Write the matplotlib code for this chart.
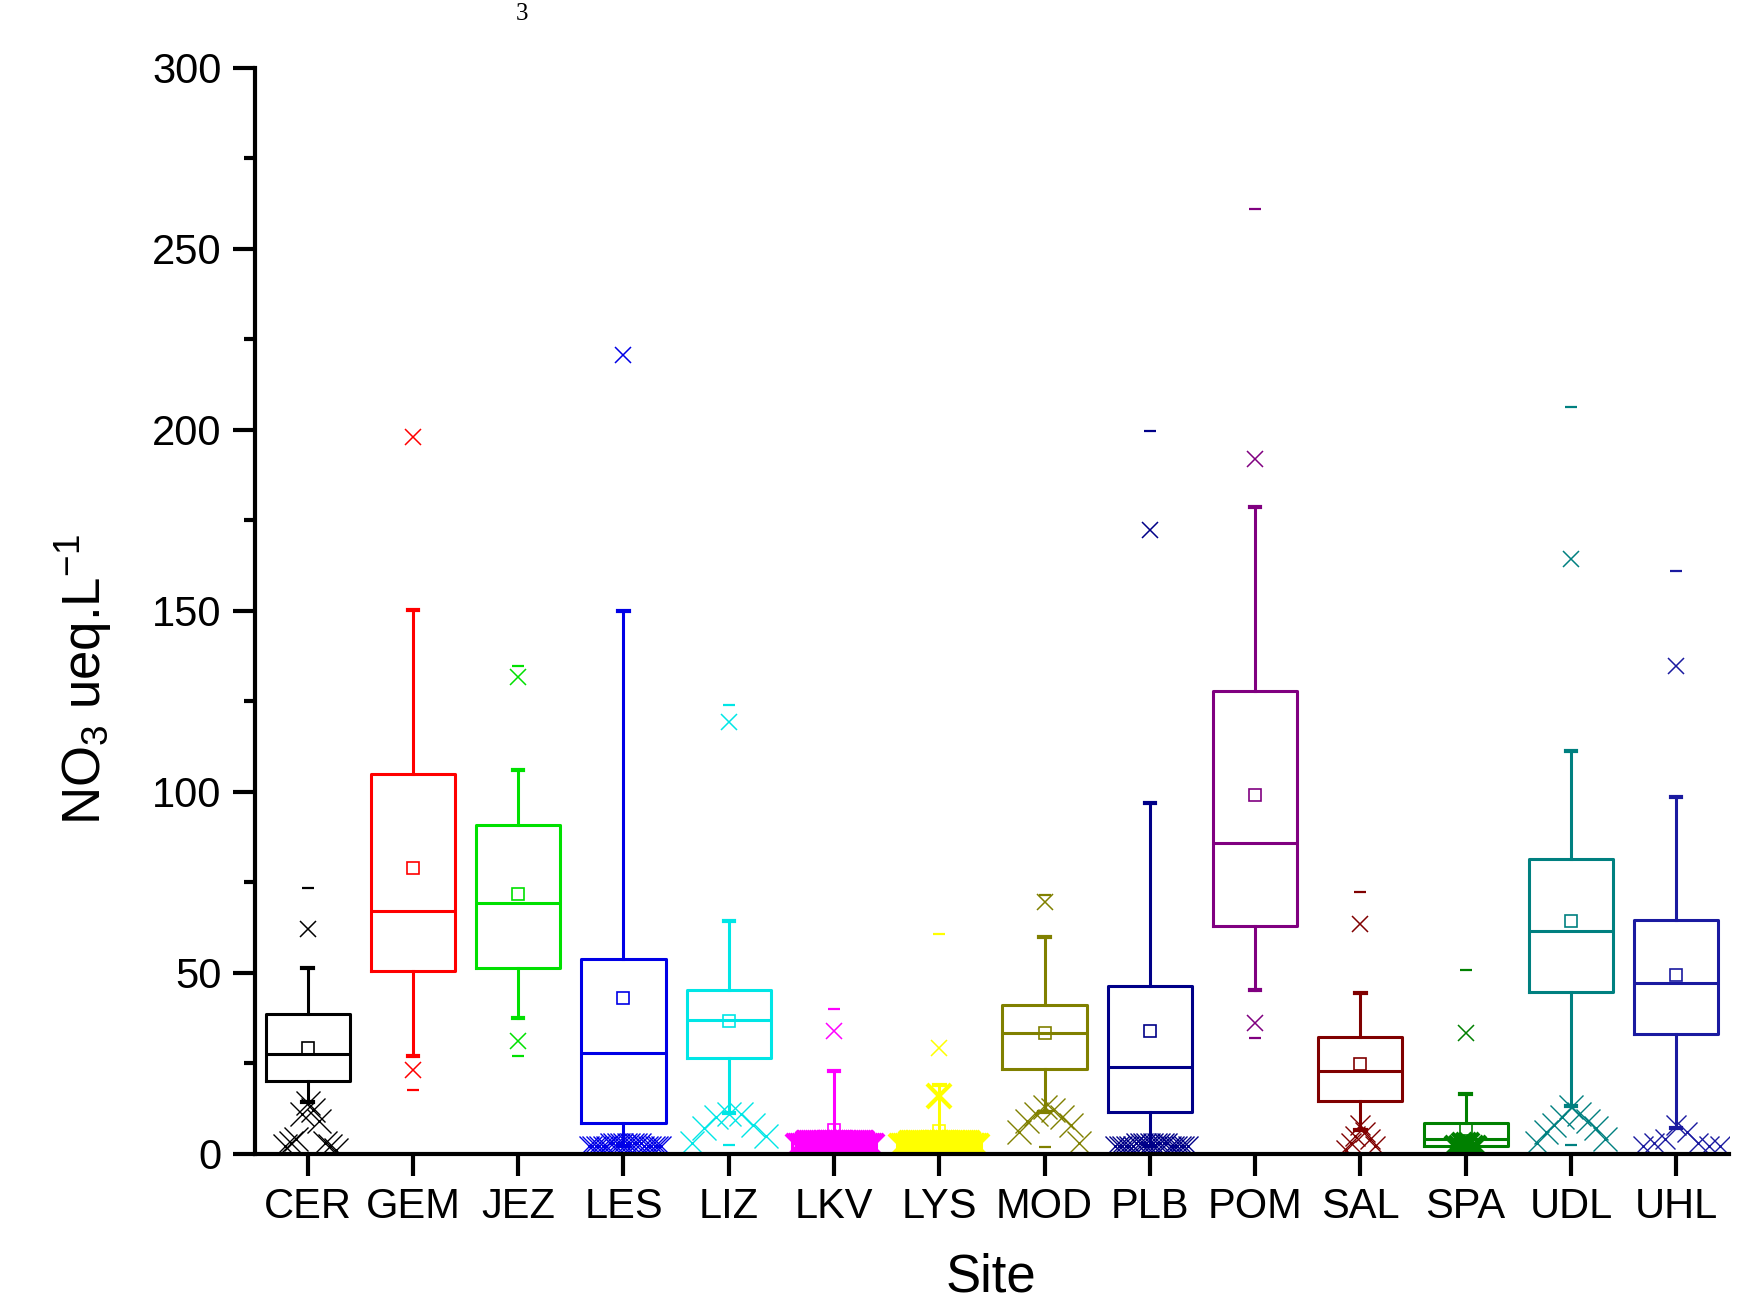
import matplotlib
matplotlib.use('Agg')
import matplotlib.pyplot as plt
from matplotlib.ticker import MultipleLocator
import numpy as np

plt.rcParams['font.family'] = ['Liberation Sans', 'DejaVu Sans']
plt.rcParams['mathtext.fontset'] = 'custom'
plt.rcParams['mathtext.rm'] = 'Liberation Sans'
plt.rcParams['mathtext.it'] = 'Liberation Sans:italic'

nan = np.nan

sites = ['CER', 'GEM', 'JEZ', 'LES', 'LIZ', 'LKV', 'LYS', 'MOD',
         'PLB', 'POM', 'SAL', 'SPA', 'UDL', 'UHL']
colors = ['#000000', '#ff0000', '#00e000', '#0000e6', '#00e6e6', '#ff00ff',
          '#ffff00', '#808000', '#000088', '#800080', '#800000', '#008000',
          '#008080', '#1a1aa0']

# box statistics (ueq/L)
q1 = [20.1, 50.4, 51.2, 8.4, 26.3, 1.0, 1.0, 23.3, 11.6, 62.9, 14.5, 2.2, 44.7, 33.1]
median = [27.5, 67.1, 69.2, 27.9, 36.9, 3.0, 3.0, 33.2, 23.9, 85.9, 22.9, 4.0, 61.6, 47.2]
q3 = [38.5, 104.9, 90.8, 53.9, 45.2, 5.0, 5.0, 41.2, 46.3, 127.9, 32.3, 8.4, 81.3, 64.5]
mean = [29.3, 78.8, 71.7, 43.0, 36.6, 6.4, 6.2, 33.4, 33.9, 99.1, 24.9, 6.7, 64.4, 49.3]
whisk_lo = [14.2, 27.0, 37.4, 2.0, 11.1, 1.0, 1.0, 11.6, 2.0, 45.2, 6.5, 1.0, 13.2, 7.0]
whisk_hi = [51.2, 150.3, 106.1, 150.0, 64.3, 22.9, 19.0, 59.9, 96.9, 178.8, 44.3, 16.4, 111.3, 98.4]
pct_lo = [nan, 23.1, 31.2, nan, nan, nan, nan, nan, nan, 36.0, nan, nan, nan, nan]
pct_hi = [62.0, 198.1, 131.6, 220.8, 119.3, 33.9, 29.1, 69.6, 172.4, 192.0, 63.4, 33.4, 164.4, 134.6]
val_min = [nan, 17.6, 27.0, nan, 2.4, nan, nan, 1.9, nan, 32.0, nan, nan, 2.4, nan]
val_max = [73.3, nan, 134.6, nan, 123.9, 39.9, 60.8, 71.4, 199.7, 261.0, 72.2, 50.7, 206.4, 160.9]

# low outlying points near zero, per site
low_points = [
    [14, 12, 11, 9, 4, 3, 3, 2, 2, 1],
    [],
    [],
    [3, 3, 3, 3, 3, 3, 3, 3, 3, 3, 2, 2, 2, 2, 2, 2, 2, 2, 2, 2, 2, 2],
    [11, 11, 10, 8, 7, 5, 3],
    [3, 3, 3, 3, 3, 3, 3, 3, 3, 3, 3, 3, 3, 3, 3, 3, 3, 3, 3, 3,
     3, 3, 3, 3, 3, 3, 3, 3, 3, 3, 2, 2, 2, 2, 2, 2, 2, 2, 2, 2],
    [16, 3, 3, 3, 3, 3, 3, 3, 3, 3, 3, 3, 3, 3, 3, 3, 3, 3, 3, 3, 3,
     3, 3, 3, 3, 3, 3, 3, 3, 3, 3, 2, 2, 2, 2, 2, 2, 2, 2, 2, 2],
    [13, 12, 11, 10, 9, 8, 6, 3],
    [3, 3, 3, 3, 3, 3, 3, 3, 3, 3, 2, 2, 2, 2, 2, 2, 2, 2, 2, 2, 2, 2],
    [],
    [8, 6, 5, 4, 3, 2, 1],
    [3, 3, 3, 2, 2, 2, 2],
    [13, 11, 10, 9, 8, 7, 6, 4, 3],
    [8, 6, 4, 3, 3, 2, 2, 2],
]
# horizontal spread and marker style of the low points
spread = [0.27, 0, 0, 0.36, 0.35, 0.36, 0.36, 0.33, 0.36, 0, 0.14, 0.1, 0.32, 0.42]
cluster_ms = [17, 0, 0, 14, 17, 17, 17, 17, 14, 0, 15, 15, 17, 15]
cluster_mew = [1.0, 1, 1, 1.0, 1.0, 3.0, 3.0, 1.0, 1.0, 1, 1.0, 3.0, 1.0, 1.0]

fig = plt.figure(figsize=(17.41, 13.05), dpi=100)
ax = fig.add_axes([0.1465, 0.116, 0.8465, 0.832])

positions = np.arange(1, len(sites) + 1)
for i, (s, c) in enumerate(zip(sites, colors)):
    pos = positions[i]
    stats = [dict(med=median[i], q1=q1[i], q3=q3[i], whislo=whisk_lo[i],
                  whishi=whisk_hi[i], mean=mean[i], fliers=[])]
    ax.bxp(stats, positions=[pos], widths=0.8, capwidths=0.1, showmeans=True,
           showfliers=False,
           boxprops=dict(color=c, lw=2.2),
           medianprops=dict(color=c, lw=2.2),
           whiskerprops=dict(color=c, lw=2.2),
           capprops=dict(color=c, lw=3),
           meanprops=dict(marker='s', mfc='none', mec=c, ms=8.5, mew=1.2))
    ax.plot(pos, pct_hi[i], marker='x', ms=11, mew=1.1, color=c, ls='none')
    ax.plot(pos, pct_lo[i], marker='x', ms=11, mew=1.1, color=c, ls='none')
    ax.plot(pos, val_max[i], marker='_', ms=8, mew=1.6, color=c, ls='none')
    ax.plot(pos, val_min[i], marker='_', ms=8, mew=1.6, color=c, ls='none')

    pts = sorted(low_points[i], reverse=True)
    n = len(pts)
    if n:
        half = max(1, int(np.ceil((n - 1) / 2)))
        step = spread[i] / half
        offs = [((k + 1) // 2) * step * (1 if k % 2 else -1) for k in range(n)]
        ax.plot(pos + np.array(offs), pts, marker='x', ls='none', color=c,
                ms=cluster_ms[i], mew=cluster_mew[i])

ax.set_xlim(0.5, 14.5)
ax.set_ylim(0, 300)
ax.set_xticks(positions)
ax.set_xticklabels(sites)
ax.yaxis.set_major_locator(MultipleLocator(50))
ax.yaxis.set_minor_locator(MultipleLocator(25))
for side in ['top', 'right']:
    ax.spines[side].set_visible(False)
for side in ['left', 'bottom']:
    ax.spines[side].set_linewidth(3)
    ax.spines[side].set_zorder(5)
ax.tick_params(axis='both', which='major', direction='out', length=16, width=3,
               labelsize=30, pad=8)
ax.tick_params(axis='y', which='minor', direction='out', length=8, width=3)

fig.text(0.048, 0.479, r'NO$_\mathregular{3}$ ueq.L$^\mathregular{-1}$',
         rotation=90, ha='center', va='center', fontsize=38)
fig.text(0.569, 0.002, 'Site', ha='center', va='bottom', fontsize=38)
fig.text(0.300, 0.998, '3', ha='center', va='top', fontsize=18,
         family='Liberation Serif')

fig.savefig('out.png', dpi=100)
